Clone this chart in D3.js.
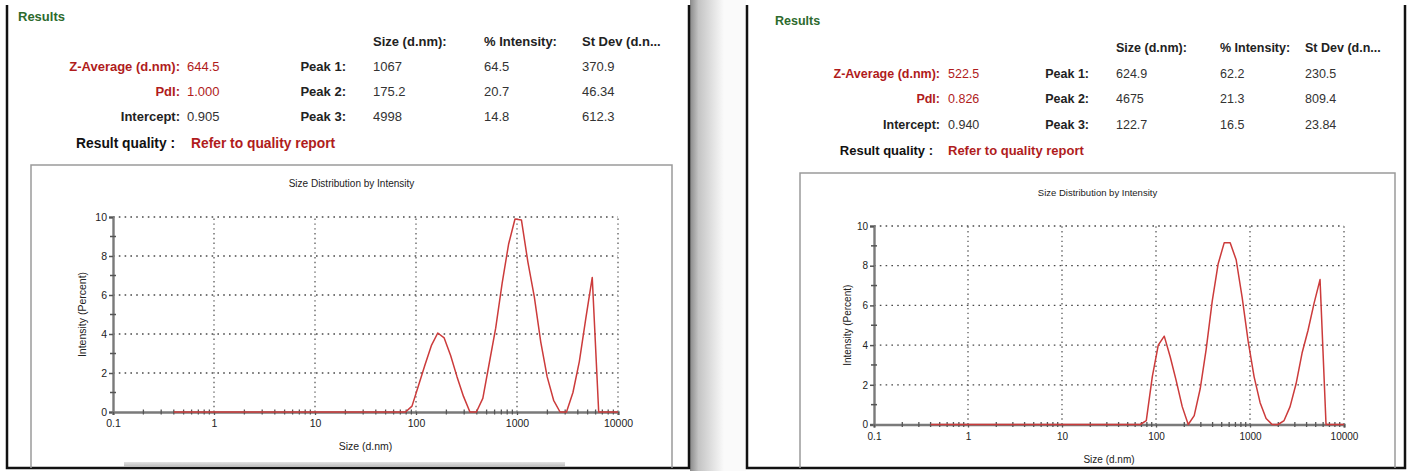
<!DOCTYPE html>
<html><head><meta charset="utf-8">
<script src="https://cdn.jsdelivr.net/npm/d3@7/dist/d3.min.js"></script>
<style>
html,body{margin:0;padding:0;background:#fff;}
svg{display:block;font-family:"Liberation Sans",Arial,sans-serif;}
</style></head>
<body>
<svg id="chart" width="1411" height="471"></svg>
<script>
// ---------------- DATA ----------------
const sizeBins = [0.4,0.4632,0.5365,0.6213,0.7195,0.8332,0.9649,1.117,1.294,1.499,
  1.736,2.01,2.328,2.696,3.122,3.615,4.187,4.849,5.615,6.503,
  7.531,8.721,10.1,11.7,13.54,15.69,18.17,21.04,24.36,28.21,
  32.67,37.84,43.82,50.75,58.77,68.06,78.82,91.28,105.7,122.4,
  141.8,164.2,190.1,220.2,255.0,295.3,342.0,396.1,458.7,531.2,
  615.1,712.4,825.0,955.4,1106,1281,1484,1718,1990,2305,
  2669,3091,3580,4145,4801,5560,6439,7456,8635,10000];
const intensityA = [0,0,0,0,0,0,0,0,0,0,
  0,0,0,0,0,0,0,0,0,0,
  0,0,0,0,0,0,0,0,0,0,
  0,0,0,0,0,0,0,0.3,1.35,2.4,
  3.4,4.05,3.8,2.9,1.8,0.8,0,0,0.7,2.5,
  4.3,6.6,8.6,9.9,9.85,7.7,5.9,3.6,1.8,0.6,
  0,0,1.0,2.6,4.8,6.9,0,0,0,0];
const intensityB = [0,0,0,0,0,0,0,0,0,0,
  0,0,0,0,0,0,0,0,0,0,
  0,0,0,0,0,0,0,0,0,0,
  0,0,0,0,0,0,0.2,2.4,4.0,4.45,
  3.4,2.2,0.9,0,0.45,1.8,3.8,6.2,8.1,9.15,
  9.15,8.3,6.4,4.2,2.4,1.1,0.3,0,0,0.2,
  0.9,2.05,3.6,4.75,6.1,7.3,0,0,0,0];
const xTicks = [0.1,1,10,100,1000,10000];
const xTickLabels = ["0.1","1","10","100","1000","10000"];
const yTicks = [0,2,4,6,8,10];
const yMinorTicks = [1,3,5,7,9];
const chartTitle = "Size Distribution by Intensity";
const xAxisTitle = "Size (d.nm)";
const yAxisTitle = "Intensity (Percent)";

const headerCols = ["Size (d.nm):","% Intensity:","St Dev (d.n..."];
const peakLabels = ["Peak 1:","Peak 2:","Peak 3:"];
const summaryLabels = ["Z-Average (d.nm):","PdI:","Intercept:"];
const summaryValuesA = ["644.5","1.000","0.905"];
const peakSizeA = ["1067","175.2","4998"];
const peakIntA = ["64.5","20.7","14.8"];
const peakSdA = ["370.9","46.34","612.3"];
const summaryValuesB = ["522.5","0.826","0.940"];
const peakSizeB = ["624.9","4675","122.7"];
const peakIntB = ["62.2","21.3","16.5"];
const peakSdB = ["230.5","809.4","23.84"];

// ---------------- DRAW ----------------
const svg = d3.select("#chart");
svg.append("rect").attr("width",1411).attr("height",471).attr("fill","#fff");

const defs = svg.append("defs");
const grad = defs.append("linearGradient").attr("id","shade").attr("x1","0").attr("x2","1").attr("y1","0").attr("y2","0");
grad.append("stop").attr("offset","0").attr("stop-color","#8a8a8a");
grad.append("stop").attr("offset","0.25").attr("stop-color","#c4c4c4");
grad.append("stop").attr("offset","1").attr("stop-color","#fafafa");
const sgrad = defs.append("linearGradient").attr("id","scroll").attr("x1","0").attr("x2","0").attr("y1","0").attr("y2","1");
sgrad.append("stop").attr("offset","0").attr("stop-color","#e2e2e2");
sgrad.append("stop").attr("offset","1").attr("stop-color","#b8b8b8");

// gap shading between panels
svg.append("rect").attr("x",690).attr("y",0).attr("width",34).attr("height",471).attr("fill","url(#shade)");
svg.append("rect").attr("x",724).attr("y",0).attr("width",22).attr("height",471).attr("fill","#fafafa");

function panelFrame(x0, x1) {
  const g = svg.append("g").attr("stroke","#111").attr("stroke-width",2.5).attr("fill","none");
  g.append("path").attr("d",`M${x0},5 V468 H${x1} V5`);
}

function header(p) {
  const g = svg.append("g").attr("font-size",p.fs);
  g.append("text").attr("x",p.resX).attr("y",p.resY).attr("fill","#2d6a2d")
    .attr("font-weight","bold").attr("font-size",p.fs).text("Results");
  headerCols.forEach((c,i)=>{
    g.append("text").attr("x",p.cols[i]).attr("y",p.hdrY).attr("font-weight","bold").attr("fill","#222").text(c);
  });
  summaryLabels.forEach((l,i)=>{
    const red = i < 2;
    g.append("text").attr("x",p.labR).attr("y",p.rowY[i]).attr("text-anchor","end")
      .attr("font-weight","bold").attr("fill", red ? "#b01c1c" : "#222").text(l);
    g.append("text").attr("x",p.valX).attr("y",p.rowY[i])
      .attr("fill", red ? "#b01c1c" : "#333").text(p.sumVals[i]);
    g.append("text").attr("x",p.peakR).attr("y",p.rowY[i]).attr("text-anchor","end")
      .attr("font-weight","bold").attr("fill","#222").text(peakLabels[i]);
    [p.sizes, p.ints, p.sds].forEach((arr,j)=>{
      g.append("text").attr("x",p.cols[j]).attr("y",p.rowY[i]).attr("fill","#333").text(arr[i]);
    });
  });
  g.append("text").attr("x",p.rqR).attr("y",p.rqY).attr("text-anchor","end")
    .attr("font-weight","bold").attr("font-size",p.rqfs).attr("fill","#111").text("Result quality :");
  g.append("text").attr("x",p.valX + p.rqDx).attr("y",p.rqY)
    .attr("font-weight","bold").attr("font-size",p.rqfs).attr("fill","#b01c1c").text("Refer to quality report");
}

function drawChart(c) {
  const x = d3.scaleLog().domain([0.1,10000]).range([c.x0,c.x1]);
  const y = d3.scaleLinear().domain([0,10]).range([c.y0,c.y1]);
  const g = svg.append("g");
  // box
  g.append("path").attr("d",`M${c.bx0},${c.bBottom} V${c.by0} H${c.bx1} V${c.bBottom}`)
    .attr("fill","none").attr("stroke","#9a9a9a").attr("stroke-width",1.5);
  g.append("text").attr("x",(c.bx0+c.bx1)/2).attr("y",c.titleY).attr("text-anchor","middle")
    .attr("font-size",c.tfs).attr("fill","#222").text(chartTitle);

  // gridlines
  g.append("g").selectAll("line").data(yTicks.filter(d=>d>0)).join("line")
    .attr("x1",x(0.1)).attr("x2",x(10000)).attr("y1",d=>y(d)).attr("y2",d=>y(d))
    .attr("stroke","#4a4a4a").attr("stroke-width",1.3).attr("stroke-dasharray","1.6,4.2");
  g.append("g").selectAll("line").data(xTicks.filter(d=>d>0.1)).join("line")
    .attr("x1",d=>x(d)).attr("x2",d=>x(d)).attr("y1",y(0)).attr("y2",y(10))
    .attr("stroke","#5a5a5a").attr("stroke-width",1.3).attr("stroke-dasharray","1.4,3.4");

  // y axis
  const ya = g.append("g").attr("transform",`translate(${c.x0},0)`)
    .call(d3.axisLeft(y).tickValues(yTicks).tickSize(4).tickPadding(2).tickFormat(d3.format("d")));
  ya.select(".domain").attr("stroke","#7a7a7a").attr("stroke-width",2.4);
  ya.selectAll(".tick line").attr("stroke","#555").attr("stroke-width",1.5);
  ya.selectAll(".tick text").attr("font-size",c.fs).attr("fill","#222").attr("font-family","Liberation Sans, Arial");
  g.append("g").selectAll("line").data(yMinorTicks).join("line")
    .attr("x1",c.x0-3).attr("x2",c.x0+3).attr("y1",d=>y(d)).attr("y2",d=>y(d))
    .attr("stroke","#555").attr("stroke-width",1.5);

  // x axis
  const xa = g.append("g").attr("transform",`translate(0,${c.y0})`)
    .call(d3.axisBottom(x).tickValues(xTicks).tickSize(3).tickPadding(c.xpad).tickFormat((d,i)=>xTickLabels[i]));
  xa.select(".domain").attr("stroke","#7a7a7a").attr("stroke-width",2.4);
  xa.selectAll(".tick line").attr("stroke","#555").attr("stroke-width",1.3);
  xa.selectAll(".tick text").attr("font-size",c.fs).attr("fill","#222").attr("font-family","Liberation Sans, Arial");
  const minor = x.ticks().filter(d => !xTicks.includes(d));
  g.append("g").selectAll("line").data(minor).join("line")
    .attr("x1",d=>x(d)).attr("x2",d=>x(d)).attr("y1",c.y0-2.5).attr("y2",c.y0+2.5)
    .attr("stroke","#555").attr("stroke-width",1.3);

  // axis titles
  g.append("text").attr("x",(c.x0+c.x1)/2).attr("y",c.xtY).attr("text-anchor","middle")
    .attr("font-size",c.fs).attr("fill","#222").text(xAxisTitle);
  g.append("text").attr("transform",`translate(${c.ytX},${(c.y0+c.y1)/2}) rotate(-90)`)
    .attr("text-anchor","middle").attr("font-size",c.fs).attr("fill","#222").text(yAxisTitle);

  // data line
  const pts = sizeBins.map((s,i)=>[s,c.values[i]]);
  g.append("path").datum(pts)
    .attr("d",d3.line().x(d=>x(d[0])).y(d=>y(d[1])))
    .attr("fill","none").attr("stroke","#cc3b3b").attr("stroke-width",1.5).attr("stroke-linejoin","round");
}

// Left panel
panelFrame(7, 689);
header({fs:13, resX:18, resY:21, cols:[373,484,582], hdrY:46, labR:180, valX:187, peakR:346,
  rowY:[71,96,121], sumVals:summaryValuesA, sizes:peakSizeA, ints:peakIntA, sds:peakSdA,
  rqR:175, rqY:148, rqDx:4, rqfs:13.8});
drawChart({x0:113,x1:618,y0:412,y1:217, bx0:31,bx1:672,by0:165,bBottom:468,
  titleY:187, tfs:10, fs:10.5, xpad:5, xtY:450, ytX:86, values:intensityA});
// scrollbar
svg.append("rect").attr("x",124).attr("y",462).attr("width",441).attr("height",5).attr("fill","url(#scroll)");

// Right panel
panelFrame(747, 1405);
header({fs:12.5, resX:775, resY:25, cols:[1116,1220,1305], hdrY:52, labR:940, valX:948, peakR:1089,
  rowY:[78,103,129], sumVals:summaryValuesB, sizes:peakSizeB, ints:peakIntB, sds:peakSdB,
  rqR:933, rqY:155, rqDx:0, rqfs:13});
drawChart({x0:874,x1:1344,y0:424.5,y1:226, bx0:800,bx1:1395,by0:173,bBottom:468,
  titleY:196, tfs:9.5, fs:10, xpad:5, xtY:463, ytX:851, values:intensityB});
</script>
</body></html>
